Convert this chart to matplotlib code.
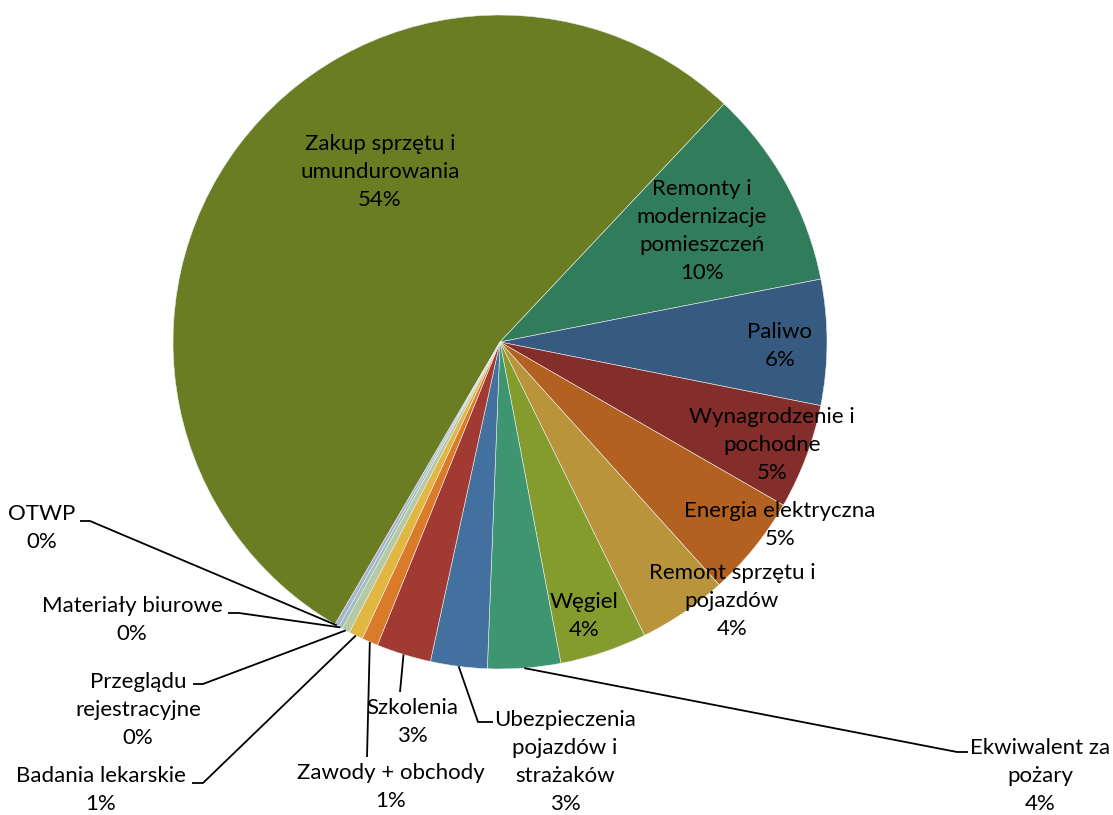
import matplotlib.pyplot as plt
import numpy as np

plt.rcParams['font.family'] = ['Lato', 'DejaVu Sans']

# data (percent of total)
labels = [
    "Zakup sprzętu i\numundurowania",
    "Remonty i\nmodernizacje\npomieszczeń",
    "Paliwo",
    "Wynagrodzenie i\npochodne",
    "Energia elektryczna",
    "Remont sprzętu i\npojazdów",
    "Węgiel",
    "Ekwiwalent za\npożary",
    "Ubezpieczenia\npojazdów i\nstrażaków",
    "Szkolenia",
    "Zawody + obchody",
    "Badania lekarskie",
    "Przeglądu\nrejestracyjne",
    "Materiały biurowe",
    "OTWP",
]
values = [53.6, 9.9, 6.2, 5.2, 5.0, 4.4, 4.3, 3.6, 2.8, 2.7, 0.8, 0.7, 0.4, 0.2, 0.2]
colors = ["#6B7D23", "#317D5B", "#375A80", "#842E2B", "#B26120", "#B9943A",
          "#849B2D", "#3E9670", "#43719F", "#A03A33", "#DA7B2A", "#E1B641",
          "#B6C9A3", "#9CC1B6", "#A9B1D0"]

# label centres in pixel coordinates of the 1113x815 picture
label_pos = [(380, 172), (702, 231), (780, 346), (772, 445), (780, 525),
             (732, 601), (584, 616), (1040, 776), (565, 762), (412, 722),
             (391, 787), (101, 790), (138, 710), (132, 620), (42, 528)]
# leader lines: (elbow, end) in pixels, None for labels inside the pie
leaders = [None, None, None, None, None, None, None,
           ((957, 752), (968, 752)),
           ((478, 722), (493, 722)),
           ((400, 692), (400, 692)),
           ((367, 757), (367, 757)),
           ((203, 783), (192, 783)),
           ((203, 684), (193, 684)),
           ((239, 613), (228, 613)),
           ((90, 521), (80, 521))]

W, H = 1113, 815
CX, CY, R = 500, 342, 327
START = 90 - 210.3  # first slice begins here, slices run clockwise


def to_data(p):
    return (p[0] - CX) / R, (CY - p[1]) / R


fig = plt.figure(figsize=(W / 100, H / 100), dpi=100)
ax = fig.add_axes([0, 0, 1, 1])

wedges, _ = ax.pie(values, colors=colors, startangle=START, counterclock=False,
                   radius=1, wedgeprops=dict(edgecolor="#EDEDED", linewidth=0.4))

ax.set_xlim(-CX / R, (W - CX) / R)
ax.set_ylim(-(H - CY) / R, CY / R)
ax.set_aspect("equal")
ax.axis("off")

total = sum(values)
for w, lab, v, pos, ld in zip(wedges, labels, values, label_pos, leaders):
    pct = round(100 * v / total)
    x, y = to_data(pos)
    ax.text(x, y, f"{lab}\n{pct}%", ha="center", va="center",
            multialignment="center", fontsize=16, linespacing=1.48, color="black")
    if ld is not None:
        mid = np.deg2rad((w.theta1 + w.theta2) / 2)
        sx, sy = np.cos(mid), np.sin(mid)
        ex, ey = to_data(ld[0])
        fx, fy = to_data(ld[1])
        ax.plot([sx, ex, fx], [sy, ey, fy], color="black", lw=1.3,
                solid_capstyle="butt")

fig.savefig("out.png", dpi=100)
